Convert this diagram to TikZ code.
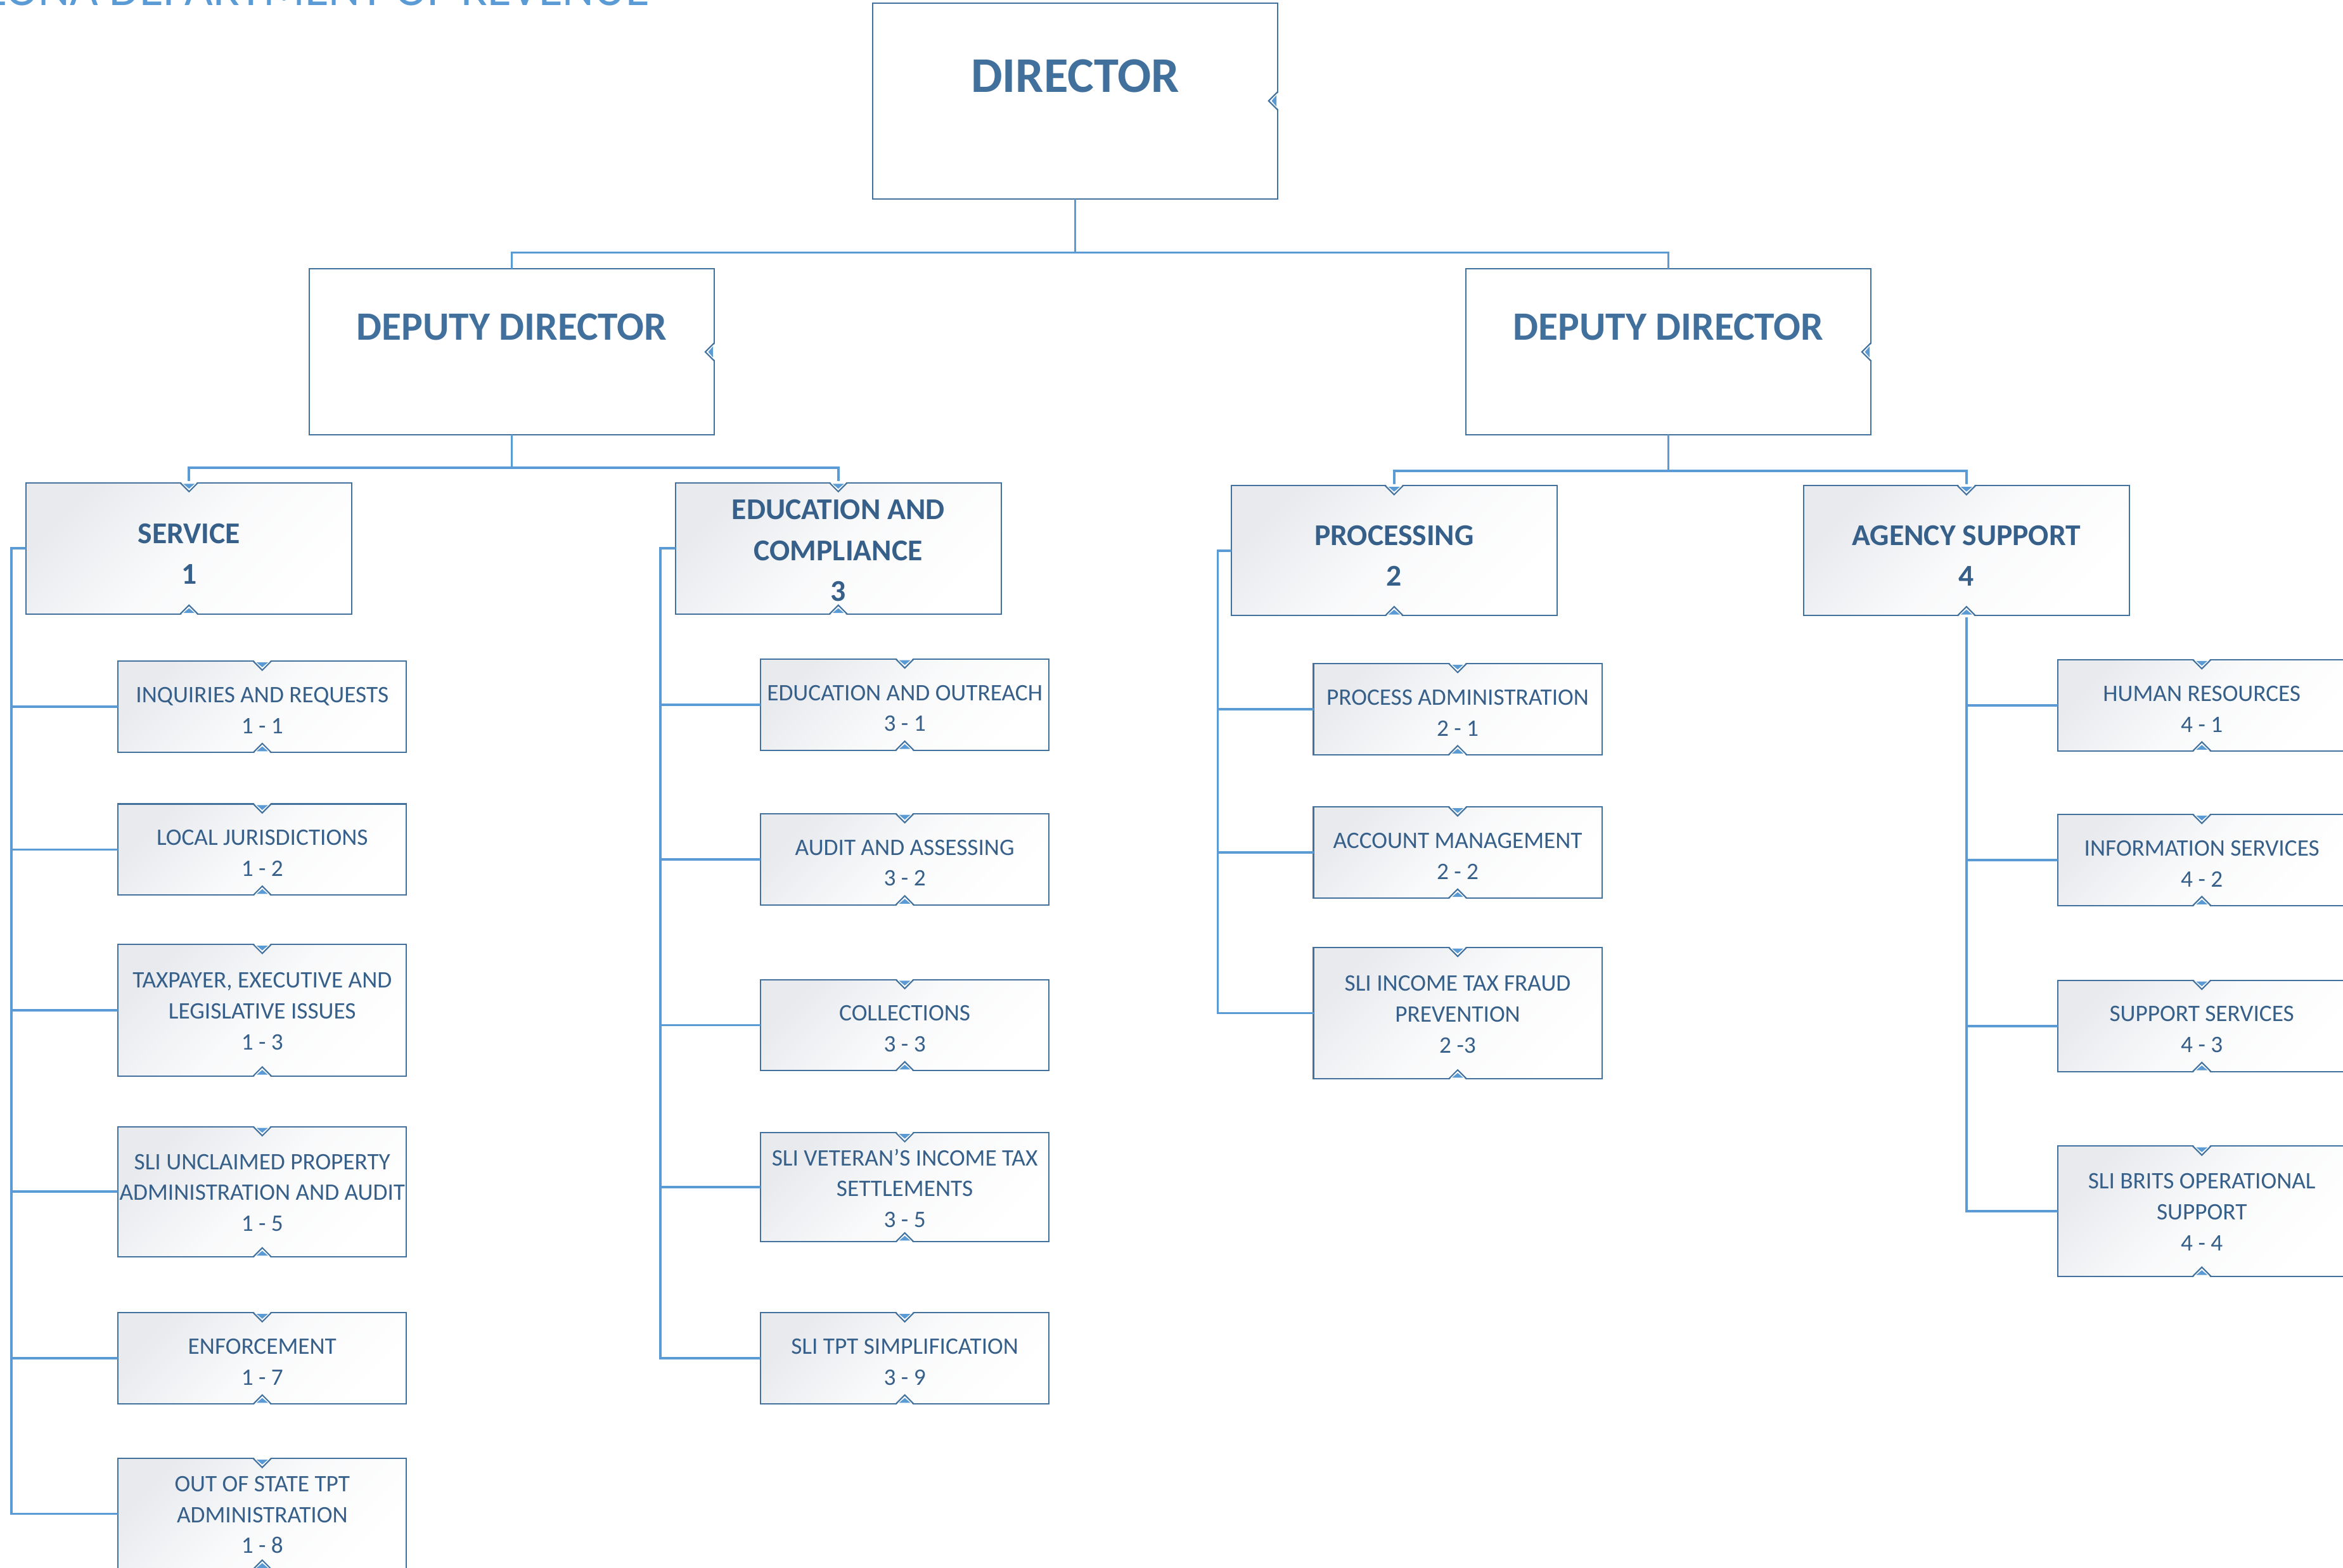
\documentclass[tikz,border=0pt]{standalone}
\usepackage{fontspec}
\setmainfont{Carlito}
\usetikzlibrary{positioning}

\definecolor{borderblue}{HTML}{41719C}
\definecolor{linkblue}{HTML}{5B9BD5}
\definecolor{headblue}{HTML}{41709C}
\definecolor{textblue}{HTML}{365F89}
\definecolor{shadegray}{HTML}{E8EAEE}

% small notches on the boxes
\newcommand{\notchtop}[1]{%
  \begin{scope}[shift={(#1.north)}]
    \fill[white] (-6,-1) -- (6,-1) -- (0,6) -- cycle;
    \draw[borderblue, line width=0.5pt] (-6,0) -- (0,6) -- (6,0);
    \fill[linkblue] (-3.8,0.8) -- (3.8,0.8) -- (0,4) -- cycle;
  \end{scope}}
\newcommand{\notchbot}[1]{%
  \begin{scope}[shift={(#1.south)}]
    \fill[white] (-6,1) -- (6,1) -- (0,-6) -- cycle;
    \draw[borderblue, line width=0.5pt] (-6,0) -- (0,-6) -- (6,0);
    \fill[linkblue] (-3.8,-0.8) -- (3.8,-0.8) -- (0,-4) -- cycle;
  \end{scope}}
\newcommand{\notchside}[1]{%
  \begin{scope}[shift={(#1.east)}]
    \fill[white] (1,-6) -- (1,6) -- (-6,0) -- cycle;
    \draw[borderblue, line width=0.5pt] (0,-6) -- (-6,0) -- (0,6);
    \fill[linkblue] (-0.8,-3.8) -- (-0.8,3.8) -- (-4,0) -- cycle;
  \end{scope}}

\begin{document}
\begin{tikzpicture}[x=0.2mm, y=-0.2mm,
  topbox/.style={draw=borderblue, line width=0.5pt, fill=white, minimum width=54.2mm, outer sep=0pt},
  shadedbox/.style={draw=borderblue, line width=0.5pt, top color=shadegray, bottom color=white,
    middle color=shadegray!25!white, shading angle=45, outer sep=0pt},
  midbox/.style={shadedbox, minimum width=43.6mm, minimum height=17.6mm},
  leafbox/.style={shadedbox, minimum width=38.6mm, minimum height=12.2mm},
  midtext/.style={align=center, text=textblue, inner sep=0pt, yshift=-2pt,
    font=\bfseries\fontsize{11.5}{15.5}\selectfont},
  leaftext/.style={align=center, text=textblue, inner sep=0pt, yshift=-1.4pt,
    font=\fontsize{9}{11.8}\selectfont},
  midunit/.style={midbox, label={[midtext]center:#1}},
  leafunit/.style={leafbox, label={[leaftext]center:#1}},
  leafthree/.style={leafbox, label={[leaftext, yshift=1pt]center:#1}},
  headtext/.style={text=headblue, inner sep=0pt, font=\bfseries\fontsize{19}{23}\selectfont},
  deptext/.style={text=headblue, inner sep=0pt, font=\bfseries\fontsize{15.3}{18}\selectfont},
  titletext/.style={text=linkblue, inner sep=0pt, font=\fontsize{18.6}{22}\selectfont},
  link/.style={draw=linkblue, line width=0.9pt}]
  \useasboundingbox (0,0) rectangle (1568,1049);
  \clip (0,0) rectangle (1568,1049);

  % Title
  \node[titletext, anchor=base east] (title) at (435,3.5) {ARIZONA DEPARTMENT OF REVENUE};

  % Nodes
  \node[topbox, minimum height=26.2mm] (dir) at (719.5,67.5) {};
  \node[headtext] (dirname) at ([yshift=-9.8mm]dir.north) {DIRECTOR};
  \node[topbox, minimum height=22.2mm] (depl) at (342.5,235.5) {};
  \node[deptext] (deplname) at ([yshift=-7.8mm]depl.north) {DEPUTY DIRECTOR};
  \node[topbox, minimum height=22.2mm] (depr) at (1116.5,235.5) {};
  \node[deptext] (deprname) at ([yshift=-7.8mm]depr.north) {DEPUTY DIRECTOR};

  \node[midunit={SERVICE\\1}] (serv) at (126.5,367) {};
  \node[midbox, label={[midtext, yshift=1.2pt]center:EDUCATION AND\\COMPLIANCE\\3}] (educ) at (561,367) {};
  \node[midunit={PROCESSING\\2}, minimum height=17.4mm] (proc) at (933,368.5) {};
  \node[midunit={AGENCY SUPPORT\\4}, minimum height=17.4mm] (agen) at (1316,368.5) {};

  \node[leafunit={INQUIRIES AND REQUESTS\\1 - 1}] (s11) at (175.5,473) {};
  \node[leafunit={LOCAL JURISDICTIONS\\1 - 2}] (s12) at (175.5,568.5) {};
  \node[leafthree={TAXPAYER, EXECUTIVE AND\\LEGISLATIVE ISSUES\\1 - 3}, minimum height=17.6mm] (s13) at (175.5,676) {};
  \node[leafthree={SLI UNCLAIMED PROPERTY\\ADMINISTRATION AND AUDIT\\1 - 5}, minimum height=17.4mm] (s15) at (175.5,797.5) {};
  \node[leafunit={ENFORCEMENT\\1 - 7}] (s17) at (175.5,909) {};
  \node[leafthree={OUT OF STATE TPT\\ADMINISTRATION\\1 - 8}, minimum height=14.8mm] (s18) at (175.5,1013) {};

  \node[leafunit={EDUCATION AND OUTREACH\\3 - 1}] (e31) at (605.5,471.5) {};
  \node[leafunit={AUDIT AND ASSESSING\\3 - 2}] (e32) at (605.5,575) {};
  \node[leafunit={COLLECTIONS\\3 - 3}] (e33) at (605.5,686) {};
  \node[leafthree={SLI VETERAN’S INCOME TAX\\SETTLEMENTS\\3 - 5}, minimum height=14.6mm] (e35) at (605.5,794.5) {};
  \node[leafunit={SLI TPT SIMPLIFICATION\\3 - 9}] (e39) at (605.5,909) {};

  \node[leafunit={PROCESS ADMINISTRATION\\2 - 1}] (p21) at (975.5,474.5) {};
  \node[leafunit={ACCOUNT MANAGEMENT\\2 - 2}] (p22) at (975.5,570.5) {};
  \node[leafthree={SLI INCOME TAX FRAUD\\PREVENTION\\2 -3}, minimum height=17.6mm] (p23) at (975.5,678) {};

  \node[leafunit={HUMAN RESOURCES\\4 - 1}] (a41) at (1473.5,472) {};
  \node[leafunit={INFORMATION SERVICES\\4 - 2}] (a42) at (1473.5,575.5) {};
  \node[leafunit={SUPPORT SERVICES\\4 - 3}] (a43) at (1473.5,686.5) {};
  \node[leafthree={SLI BRITS OPERATIONAL\\SUPPORT\\4 - 4}, minimum height=17.4mm] (a44) at (1473.5,810.5) {};

  % Edges
  \draw[link] (dir.south) -- ++(0,36) -| (depl.north);
  \draw[link] (dir.south) -- ++(0,36) -| (depr.north);
  \draw[link] (depl.south) -- ++(0,22) -| (serv.north);
  \draw[link] (depl.south) -- ++(0,22) -| (educ.north);
  \draw[link] (depr.south) -- ++(0,24) -| (proc.north);
  \draw[link] (depr.south) -- ++(0,24) -| (agen.north);
  \foreach \leaf in {s11,s12,s13,s15,s17,s18}
    \draw[link] (serv.west) -- ++(-10,0) |- (\leaf.west);
  \foreach \leaf in {e31,e32,e33,e35,e39}
    \draw[link] (educ.west) -- ++(-10,0) |- (\leaf.west);
  \foreach \leaf in {p21,p22,p23}
    \draw[link] (proc.west) -- ++(-9,0) |- (\leaf.west);
  \foreach \leaf in {a41,a42,a43,a44}
    \draw[link] (agen.south) |- (\leaf.west);

  % Notches
  \foreach \nd in {dir,depl,depr} {\notchside{\nd}}
  \foreach \nd in {serv,educ,proc,agen,s11,s12,s13,s15,s17,s18,e31,e32,e33,e35,e39,p21,p22,p23,a41,a42,a43,a44}
    {\notchtop{\nd}\notchbot{\nd}}
\end{tikzpicture}
\end{document}
